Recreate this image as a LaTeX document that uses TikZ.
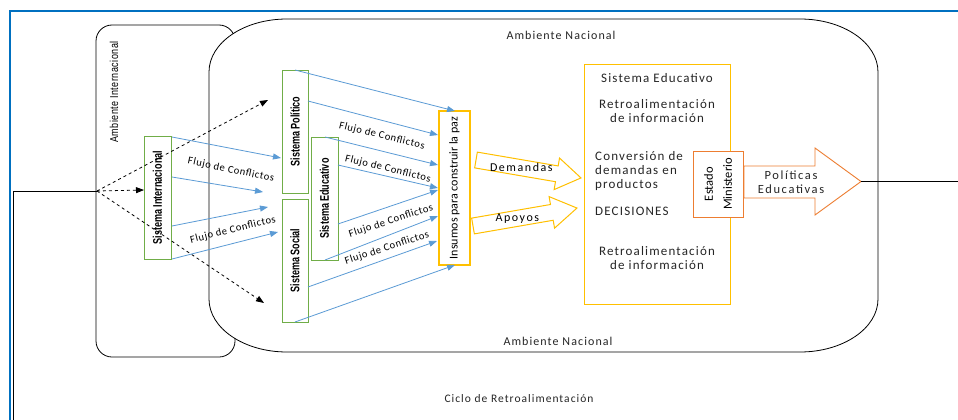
\documentclass[tikz,border=0pt]{standalone}
\usepackage{fontspec}
\setmainfont{Carlito}
\newfontfamily\spaced{Carlito}[LetterSpace=9]
\newfontfamily\arrfont{Carlito}[LetterSpace=13]
\newfontfamily\flujo{Carlito}[LetterSpace=6]
\newfontfamily\narrow{Liberation Sans}[FakeStretch=0.725]
\newfontfamily\narrowreg{Liberation Sans}[FakeStretch=0.78,LetterSpace=4]
\usetikzlibrary{arrows.meta}
\definecolor{frameblue}{HTML}{0070C0}
\definecolor{arrblue}{HTML}{5B9BD5}
\definecolor{sysgreen}{HTML}{70AD47}
\definecolor{gold}{HTML}{FFC000}
\definecolor{orng}{HTML}{ED7D31}
\tikzset{
  sysbox/.style={draw=sysgreen, line width=0.9pt, rotate=90, inner sep=0pt,
     font=\narrow\fontsize{12.5}{13}\selectfont\bfseries},
  flow/.style={draw=arrblue, line width=0.8pt, -{Triangle[length=8pt,width=6pt]}, color=arrblue},
  dasharrow/.style={draw=black, line width=0.8pt, dashed, -{Triangle[length=8pt,width=6pt]}},
  flujolbl/.style={font=\flujo\fontsize{10.5}{11}\selectfont, inner sep=0pt},
  bigtxt/.style={font=\spaced\fontsize{13}{14}\selectfont, inner sep=0pt, text=black!85},
  fbline/.style={draw=black, line width=0.8pt},
}
\begin{document}
\begin{tikzpicture}[x=1pt,y=-1pt]
\useasboundingbox (0,0) rectangle (958,420);
\fill[white] (0,0) rectangle (958,420);
% outer frame
\draw[frameblue, line width=2pt] (10,11) rectangle (975,440);
% Ambiente Internacional
\draw[black, line width=0.8pt, rounded corners=16pt] (96,25) rectangle (235,357);
\node[rotate=90, font=\narrowreg\fontsize{11.5}{12}\selectfont, inner sep=0pt] (ainl) at (114,92) {Ambiente Internacional};
% Ambiente Nacional
\filldraw[fill=white, draw=black, line width=0.8pt]
  (287,19) -- (800,19) .. controls (843.1,19) and (878,42.7) .. (878,72)
  -- (878,299) .. controls (878,328.3) and (843.1,352) .. (800,352)
  -- (287,352) .. controls (243.9,352) and (209,328.3) .. (209,299)
  -- (209,72) .. controls (209,42.7) and (243.9,19) .. (287,19) -- cycle;
\node[bigtxt, font=\spaced\fontsize{12}{13}\selectfont] (antop) at (561,35) {Ambiente Nacional};
\node[bigtxt, font=\spaced\fontsize{12}{13}\selectfont] (anbot) at (558,341) {Ambiente Nacional};
\node[bigtxt, font=\spaced\fontsize{11.5}{13}\selectfont] (ciclo) at (519,399) {Ciclo de Retroalimentación};
% systems
\node[sysbox, minimum width=123pt, minimum height=27pt] (sint) at (157.5,197.5) {Sistema\,Internacional};
\node[sysbox, minimum width=123pt, minimum height=26pt] (spol) at (295,131.5) {Sistema Político};
\node[sysbox, minimum width=123pt, minimum height=26pt] (ssoc) at (295,260.5) {Sistema Social};
\node[sysbox, minimum width=123pt, minimum height=27pt] (sedu) at (324.5,198.5) {Sistema\,Educativo};
\node[draw=gold, line width=1.3pt, rotate=90, minimum width=154pt, minimum height=31pt, inner sep=0pt,
  font=\fontsize{12}{13}\selectfont] (ins) at (454.5,188) {Insumos para construir la paz};
% big Sistema Educativo box
\node[draw=gold, line width=1pt, minimum width=146pt, minimum height=239pt] (bsed) at (657,184.5) {};
\node[bigtxt] (t1) at (657,78) {Sistema Educativo};
\node[bigtxt, align=center] (t2) at (657,111) {Retroalimentación\\de información};
\node[bigtxt, align=left, anchor=west] (t3) at (595,171.5) {Conversión de\\demandas en\\productos};
\node[bigtxt, anchor=west] (t4) at (595,211) {DECISIONES};
\node[bigtxt, align=center] (t5) at (657,258.5) {Retroalimentación\\de información};
% Estado Ministerio
\node[draw=orng, fill=white, line width=1pt, rotate=90, minimum width=66pt, minimum height=50pt,
  inner sep=0pt, align=center, font=\fontsize{12.5}{19}\selectfont] (est) at (718,184) {Estado\\Ministerio};
% Politicas arrow
\draw[draw=orng, line width=0.9pt, fill=white]
  (744,166) -- (815,166) -- (815,148) -- (861,181.5) -- (815,215) -- (815,198) -- (744,198) -- cycle;
\coordinate (poltip) at (861,181.5);
\node[font=\arrfont\fontsize{12.5}{14}\selectfont, align=center, inner sep=0pt, text=black!85] (polt) at (791,182) {Políticas\\Educativas};
% Demandas / Apoyos block arrows
\begin{scope}[shift={(476,160)}, rotate=-9.7]
  \draw[draw=gold, line width=1pt, fill=white]
   (0,-8) -- (82,-8) -- (82,-16) -- (106.5,0) -- (82,16) -- (82,8) -- (0,8) -- cycle;
  \node[font=\arrfont\fontsize{12}{13}\selectfont, inner sep=0pt] (dem) at (46,0) {Demandas};
\end{scope}
\begin{scope}[shift={(473,226)}, rotate=9.8]
  \draw[draw=gold, line width=1pt, fill=white]
   (0,-8) -- (80,-8) -- (80,-16) -- (105.5,0) -- (80,16) -- (80,8) -- (0,8) -- cycle;
  \node[font=\arrfont\fontsize{12}{13}\selectfont, inner sep=0pt] (apo) at (45,0) {Apoyos};
\end{scope}
% feedback lines
\coordinate (hub) at (97,191);
\coordinate (fbc) at (13,191);
\coordinate (fbd) at (13,430);
\coordinate (rend) at (965,181.5);
\draw[fbline] (hub) -- (fbc) -- (fbd);
\draw[fbline] (poltip) -- (rend);
% dashed arrows
\coordinate (d1) at (268,100);
\coordinate (d3) at (264,303);
\coordinate (d2) at (144,190);
\draw[dasharrow] (hub) -- (d1);
\draw[dasharrow] (hub) -- (d2);
\draw[dasharrow] (hub) -- (d3);
% blue arrows from Internacional
\coordinate (a1s) at (172,137); \coordinate (a1e) at (281,158);
\coordinate (a2s) at (172,177); \coordinate (a2e) at (263,192);
\coordinate (a3s) at (172,226); \coordinate (a3e) at (268,207);
\coordinate (a4s) at (172,259); \coordinate (a4e) at (278,232);
\draw[flow] (a1s) -- (a1e);
\draw[flow] (a2s) -- (a2e);
\draw[flow] (a3s) -- (a3e);
\draw[flow] (a4s) -- (a4e);
\node[flujolbl, rotate=-12] (l1) at (231,170) {Flujo de Conflictos};
\node[flujolbl, rotate=14] (l2) at (233,230) {Flujo de Conflictos};
% blue arrows to Insumos
\coordinate (b1s) at (295,70);  \coordinate (b1e) at (455,111);
\coordinate (b2s) at (308,101); \coordinate (b2e) at (438,135);
\coordinate (b3s) at (325,137); \coordinate (b3e) at (438,165);
\coordinate (b4s) at (338,165); \coordinate (b4e) at (438,188);
\coordinate (b5s) at (338,224); \coordinate (b5e) at (438,190);
\coordinate (b6s) at (325,260); \coordinate (b6e) at (438,216);
\coordinate (b7s) at (308,287); \coordinate (b7e) at (437,241);
\coordinate (b8s) at (295,322); \coordinate (b8e) at (455,265);
\foreach \i in {1,...,8} {\draw[flow] (b\i s) -- (b\i e);}
\node[flujolbl, rotate=-14] (l3) at (382,136) {Flujo de Conflictos};
\node[flujolbl, rotate=-14] (l4) at (388,169) {Flujo de Conflictos};
\node[flujolbl, rotate=18] (l5) at (391,221) {Flujo de Conflictos};
\node[flujolbl, rotate=18] (l6) at (387,248) {Flujo de Conflictos};
\end{tikzpicture}
\end{document}
